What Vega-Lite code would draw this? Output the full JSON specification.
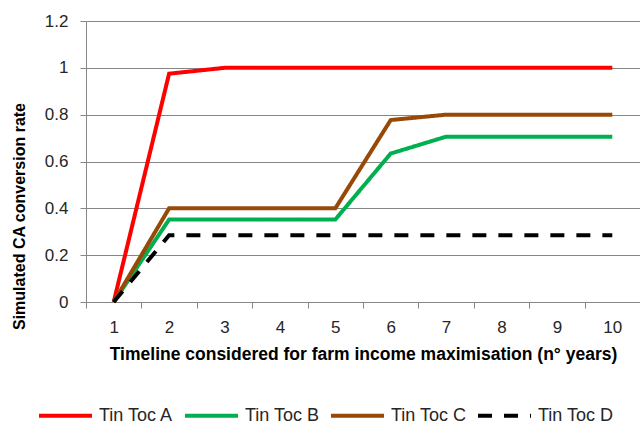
{
  "$schema": "https://vega.github.io/schema/vega-lite/v6.json",
  "width": 554,
  "height": 281,
  "autosize": "none",
  "padding": {"left": 86, "top": 21, "right": 0, "bottom": 124},
  "background": "white",
  "config": {
    "font": "Liberation Sans",
    "view": {"stroke": null}
  },
  "data": {
    "values": [
      {"year": "1", "series": "Tin Toc A", "rate": 0},
      {"year": "2", "series": "Tin Toc A", "rate": 0.975},
      {"year": "3", "series": "Tin Toc A", "rate": 1.0},
      {"year": "4", "series": "Tin Toc A", "rate": 1.0},
      {"year": "5", "series": "Tin Toc A", "rate": 1.0},
      {"year": "6", "series": "Tin Toc A", "rate": 1.0},
      {"year": "7", "series": "Tin Toc A", "rate": 1.0},
      {"year": "8", "series": "Tin Toc A", "rate": 1.0},
      {"year": "9", "series": "Tin Toc A", "rate": 1.0},
      {"year": "10", "series": "Tin Toc A", "rate": 1.0},
      {"year": "1", "series": "Tin Toc B", "rate": 0},
      {"year": "2", "series": "Tin Toc B", "rate": 0.352},
      {"year": "3", "series": "Tin Toc B", "rate": 0.352},
      {"year": "4", "series": "Tin Toc B", "rate": 0.352},
      {"year": "5", "series": "Tin Toc B", "rate": 0.352},
      {"year": "6", "series": "Tin Toc B", "rate": 0.634},
      {"year": "7", "series": "Tin Toc B", "rate": 0.706},
      {"year": "8", "series": "Tin Toc B", "rate": 0.706},
      {"year": "9", "series": "Tin Toc B", "rate": 0.706},
      {"year": "10", "series": "Tin Toc B", "rate": 0.706},
      {"year": "1", "series": "Tin Toc C", "rate": 0},
      {"year": "2", "series": "Tin Toc C", "rate": 0.4},
      {"year": "3", "series": "Tin Toc C", "rate": 0.4},
      {"year": "4", "series": "Tin Toc C", "rate": 0.4},
      {"year": "5", "series": "Tin Toc C", "rate": 0.4},
      {"year": "6", "series": "Tin Toc C", "rate": 0.777},
      {"year": "7", "series": "Tin Toc C", "rate": 0.8},
      {"year": "8", "series": "Tin Toc C", "rate": 0.8},
      {"year": "9", "series": "Tin Toc C", "rate": 0.8},
      {"year": "10", "series": "Tin Toc C", "rate": 0.8},
      {"year": "1", "series": "Tin Toc D", "rate": 0},
      {"year": "2", "series": "Tin Toc D", "rate": 0.285},
      {"year": "3", "series": "Tin Toc D", "rate": 0.285},
      {"year": "4", "series": "Tin Toc D", "rate": 0.285},
      {"year": "5", "series": "Tin Toc D", "rate": 0.285},
      {"year": "6", "series": "Tin Toc D", "rate": 0.285},
      {"year": "7", "series": "Tin Toc D", "rate": 0.285},
      {"year": "8", "series": "Tin Toc D", "rate": 0.285},
      {"year": "9", "series": "Tin Toc D", "rate": 0.285},
      {"year": "10", "series": "Tin Toc D", "rate": 0.285}
    ]
  },
  "mark": {"type": "line", "strokeWidth": 4, "strokeJoin": "miter"},
  "encoding": {
    "x": {
      "field": "year",
      "type": "ordinal",
      "sort": ["1","2","3","4","5","6","7","8","9","10"],
      "bandPosition": 0.5,
      "scale": {"type": "band", "paddingInner": 0, "paddingOuter": 0},
      "axis": {
        "title": "Timeline considered for farm income maximisation (n°  years)",
        "titleFontSize": 17.5,
        "titleFontWeight": "bold",
        "titleColor": "#000000",
        "titlePadding": 10,
        "labelAngle": 0,
        "labelFontSize": 17,
        "labelColor": "#262626",
        "labelPadding": 11,
        "tickBand": "extent",
        "tickSize": 6,
        "tickColor": "#868686",
        "domainColor": "#868686",
        "grid": false
      }
    },
    "y": {
      "field": "rate",
      "type": "quantitative",
      "scale": {"domain": [0, 1.2], "nice": false},
      "axis": {
        "title": "Simulated CA conversion rate",
        "titleFontSize": 16,
        "titleFontWeight": "bold",
        "titleColor": "#000000",
        "titleAngle": 270,
        "titleX": -67,
        "titleY": 195,
        "titleAlign": "center",
        "titleBaseline": "middle",
        "values": [0, 0.2, 0.4, 0.6, 0.8, 1, 1.2],
        "format": "~g",
        "labelFontSize": 17,
        "labelColor": "#262626",
        "labelPadding": 12,
        "tickSize": 6,
        "tickColor": "#868686",
        "domainColor": "#868686",
        "grid": true,
        "gridColor": "#868686",
        "gridWidth": 1
      }
    },
    "color": {
      "field": "series",
      "type": "nominal",
      "scale": {
        "domain": ["Tin Toc A", "Tin Toc B", "Tin Toc C", "Tin Toc D"],
        "range": ["#FF0000", "#00B050", "#984807", "#000000"]
      },
      "legend": {
        "title": null,
        "orient": "none",
        "legendX": -49,
        "legendY": 366,
        "direction": "horizontal",
        "columns": 4,
        "symbolType": "stroke",
        "symbolSize": 2809,
        "symbolStrokeWidth": 4,
        "labelFontSize": 18,
        "labelColor": "#262626",
        "labelOffset": 5,
        "columnPadding": 3
      }
    },
    "strokeDash": {
      "field": "series",
      "type": "nominal",
      "scale": {
        "domain": ["Tin Toc A", "Tin Toc B", "Tin Toc C", "Tin Toc D"],
        "range": [[1, 0], [1, 0], [1, 0], [14, 12]]
      },
      "legend": {
        "title": null,
        "orient": "none",
        "legendX": -49,
        "legendY": 366,
        "direction": "horizontal",
        "columns": 4,
        "symbolType": "stroke",
        "symbolSize": 2809,
        "symbolStrokeWidth": 4,
        "labelFontSize": 18,
        "labelColor": "#262626",
        "labelOffset": 5,
        "columnPadding": 3
      }
    }
  }
}
